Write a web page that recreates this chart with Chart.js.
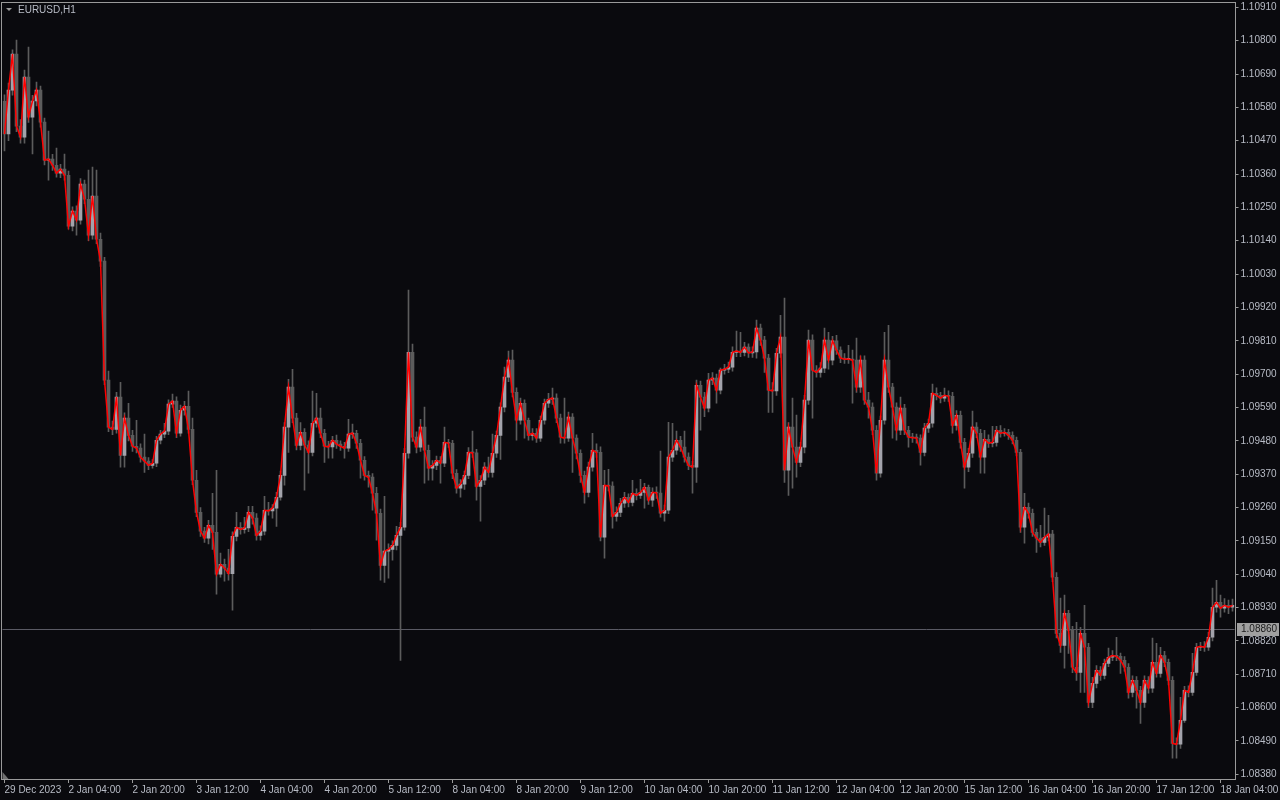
<!DOCTYPE html>
<html>
<head>
<meta charset="utf-8">
<script src="https://cdn.jsdelivr.net/npm/chart.js@4.4.1/dist/chart.umd.min.js"></script>
<style>
  html, body { margin: 0; padding: 0; background: #0a0a0e; }
  #wrap { width: 1280px; height: 800px; }
</style>
</head>
<body>
<div id="wrap"><canvas id="myChart" width="1280" height="800"></canvas></div>
<script>
// EURUSD H1, 29 Dec 2023 .. 18 Jan 2024
var opens = [
 1.10600,1.10492,1.10637,1.10756,1.10518,1.10482,1.10680,1.10548,1.10601,1.10637,
 1.10531,1.10406,1.10409,1.10389,1.10363,1.10376,1.10356,1.10188,1.10238,1.10208,
 1.10327,1.10277,1.10158,1.10287,1.10145,1.10073,1.09680,1.09525,1.09518,1.09624,
 1.09432,1.09555,1.09498,1.09462,1.09456,1.09426,1.09413,1.09399,1.09406,1.09482,
 1.09502,1.09512,1.09601,1.09611,1.09505,1.09581,1.09594,1.09518,1.09350,1.09244,
 1.09182,1.09159,1.09201,1.09178,1.09040,1.09073,1.09060,1.09042,1.09165,1.09195,
 1.09188,1.09193,1.09244,1.09225,1.09168,1.09182,1.09251,1.09249,1.09258,1.09294,
 1.09366,1.09525,1.09657,1.09555,1.09465,1.09508,1.09466,1.09442,1.09538,1.09555,
 1.09505,1.09462,1.09460,1.09482,1.09469,1.09462,1.09456,1.09502,1.09505,1.09472,
 1.09416,1.09366,1.09360,1.09307,1.09241,1.09069,1.09116,1.09122,1.09135,1.09168,
 1.09195,1.09439,1.09772,1.09492,1.09459,1.09525,1.09449,1.09390,1.09399,1.09416,
 1.09406,1.09475,1.09472,1.09373,1.09324,1.09337,1.09366,1.09442,1.09440,1.09330,
 1.09350,1.09393,1.09376,1.09439,1.09498,1.09591,1.09690,1.09746,1.09640,1.09548,
 1.09604,1.09548,1.09498,1.09505,1.09489,1.09548,1.09604,1.09617,1.09621,1.09555,
 1.09492,1.09489,1.09558,1.09489,1.09439,1.09366,1.09310,1.09393,1.09449,1.09442,
 1.09162,1.09333,1.09331,1.09231,1.09244,1.09274,1.09294,1.09277,1.09307,1.09300,
 1.09310,1.09327,1.09284,1.09310,1.09308,1.09241,1.09251,1.09426,1.09449,1.09482,
 1.09459,1.09426,1.09399,1.09393,1.09663,1.09624,1.09588,1.09680,1.09687,1.09647,
 1.09713,1.09716,1.09723,1.09772,1.09776,1.09772,1.09789,1.09770,1.09773,1.09852,
 1.09812,1.09753,1.09647,1.09645,1.09769,1.09822,1.09383,1.09525,1.09459,1.09409,
 1.09459,1.09614,1.09812,1.09713,1.09706,1.09720,1.09812,1.09746,1.09810,1.09779,
 1.09753,1.09749,1.09750,1.09746,1.09657,1.09746,1.09614,1.09591,1.09515,1.09373,
 1.09548,1.09746,1.09657,1.09591,1.09515,1.09588,1.09515,1.09492,1.09490,1.09489,
 1.09442,1.09522,1.09538,1.09637,1.09630,1.09621,1.09630,1.09627,1.09531,1.09564,
 1.09475,1.09393,1.09439,1.09525,1.09505,1.09426,1.09485,1.09472,1.09475,1.09515,
 1.09505,1.09508,1.09498,1.09482,1.09442,1.09195,1.09261,1.09241,1.09178,1.09159,
 1.09145,1.09162,1.09172,1.09030,1.08845,1.08805,1.08911,1.08855,1.08733,1.08716,
 1.08845,1.08799,1.08617,1.08680,1.08723,1.08706,1.08746,1.08766,1.08772,1.08769,
 1.08756,1.08733,1.08650,1.08690,1.08657,1.08617,1.08690,1.08664,1.08749,1.08713,
 1.08772,1.08749,1.08690,1.08482,1.08479,1.08558,1.08657,1.08650,1.08716,1.08799,
 1.08802,1.08799,1.08832,1.08931,1.08947,1.08928,1.08937,1.08931
];
var highs = [
 1.10621,1.10660,1.10770,1.10802,1.10540,1.10703,1.10779,1.10620,1.10663,1.10650,
 1.10545,1.10502,1.10425,1.10446,1.10392,1.10426,1.10370,1.10252,1.10255,1.10345,
 1.10340,1.10373,1.10383,1.10373,1.10165,1.10085,1.09710,1.09545,1.09640,1.09673,
 1.09572,1.09604,1.09515,1.09548,1.09470,1.09502,1.09425,1.09418,1.09495,1.09515,
 1.09538,1.09615,1.09634,1.09625,1.09598,1.09610,1.09644,1.09555,1.09383,1.09260,
 1.09195,1.09218,1.09307,1.09383,1.09110,1.09090,1.09122,1.09180,1.09244,1.09210,
 1.09228,1.09264,1.09264,1.09240,1.09200,1.09297,1.09277,1.09270,1.09310,1.09380,
 1.09540,1.09683,1.09716,1.09571,1.09540,1.09520,1.09480,1.09644,1.09637,1.09588,
 1.09518,1.09478,1.09495,1.09499,1.09480,1.09475,1.09551,1.09535,1.09515,1.09485,
 1.09428,1.09380,1.09372,1.09327,1.09255,1.09297,1.09140,1.09150,1.09198,1.09211,
 1.09455,1.09977,1.09799,1.09510,1.09551,1.09591,1.09466,1.09415,1.09430,1.09428,
 1.09525,1.09485,1.09482,1.09385,1.09352,1.09380,1.09458,1.09512,1.09452,1.09365,
 1.09408,1.09426,1.09502,1.09512,1.09605,1.09723,1.09776,1.09779,1.09655,1.09621,
 1.09615,1.09555,1.09520,1.09520,1.09562,1.09618,1.09637,1.09654,1.09635,1.09568,
 1.09621,1.09575,1.09570,1.09500,1.09450,1.09380,1.09410,1.09505,1.09470,1.09460,
 1.09383,1.09386,1.09345,1.09262,1.09290,1.09310,1.09305,1.09350,1.09322,1.09353,
 1.09340,1.09334,1.09325,1.09328,1.09446,1.09268,1.09541,1.09538,1.09512,1.09495,
 1.09512,1.09440,1.09412,1.09680,1.09677,1.09640,1.09703,1.09705,1.09700,1.09720,
 1.09732,1.09740,1.09790,1.09842,1.09838,1.09805,1.09800,1.09790,1.09878,1.09865,
 1.09825,1.09765,1.09672,1.09785,1.09894,1.09951,1.09540,1.09621,1.09565,1.09475,
 1.09630,1.09845,1.09830,1.09728,1.09738,1.09852,1.09838,1.09825,1.09828,1.09790,
 1.09768,1.09795,1.09779,1.09819,1.09760,1.09760,1.09640,1.09605,1.09530,1.09562,
 1.09838,1.09861,1.09670,1.09605,1.09624,1.09600,1.09528,1.09505,1.09502,1.09500,
 1.09538,1.09552,1.09667,1.09655,1.09640,1.09654,1.09645,1.09640,1.09580,1.09578,
 1.09488,1.09455,1.09578,1.09540,1.09518,1.09515,1.09500,1.09528,1.09528,1.09530,
 1.09520,1.09518,1.09510,1.09492,1.09452,1.09307,1.09275,1.09255,1.09190,1.09201,
 1.09258,1.09234,1.09185,1.09045,1.08961,1.08971,1.08921,1.08868,1.08881,1.08865,
 1.08937,1.08812,1.08700,1.08739,1.08735,1.08760,1.08796,1.08788,1.08832,1.08780,
 1.08768,1.08745,1.08705,1.08702,1.08670,1.08705,1.08702,1.08829,1.08812,1.08799,
 1.08786,1.08760,1.08702,1.08500,1.08634,1.08670,1.08672,1.08779,1.08812,1.08815,
 1.08818,1.08848,1.08994,1.09020,1.08971,1.08960,1.08955,1.08958
];
var lows = [
 1.10436,1.10470,1.10620,1.10500,1.10462,1.10462,1.10530,1.10426,1.10585,1.10515,
 1.10390,1.10340,1.10372,1.10350,1.10348,1.10340,1.10178,1.10172,1.10158,1.10195,
 1.10262,1.10140,1.10145,1.10130,1.10055,1.09665,1.09510,1.09500,1.09505,1.09393,
 1.09393,1.09480,1.09445,1.09440,1.09410,1.09376,1.09385,1.09390,1.09395,1.09470,
 1.09490,1.09500,1.09590,1.09490,1.09495,1.09565,1.09505,1.09335,1.09230,1.09165,
 1.09145,1.09140,1.09122,1.08974,1.09030,1.09017,1.09020,1.08921,1.09150,1.09172,
 1.09175,1.09180,1.09205,1.09152,1.09152,1.09170,1.09235,1.09225,1.09198,1.09284,
 1.09334,1.09442,1.09540,1.09450,1.09450,1.09317,1.09373,1.09430,1.09525,1.09490,
 1.09409,1.09423,1.09423,1.09455,1.09448,1.09423,1.09445,1.09488,1.09455,1.09357,
 1.09350,1.09327,1.09251,1.09152,1.09020,1.09013,1.09027,1.09086,1.09120,1.08756,
 1.09185,1.09423,1.09478,1.09440,1.09445,1.09340,1.09350,1.09350,1.09385,1.09340,
 1.09395,1.09458,1.09355,1.09307,1.09294,1.09320,1.09355,1.09425,1.09284,1.09215,
 1.09335,1.09360,1.09360,1.09425,1.09419,1.09575,1.09675,1.09625,1.09482,1.09535,
 1.09489,1.09482,1.09482,1.09475,1.09478,1.09535,1.09590,1.09600,1.09540,1.09472,
 1.09472,1.09478,1.09376,1.09420,1.09343,1.09274,1.09295,1.09380,1.09425,1.09150,
 1.09093,1.09315,1.09192,1.09215,1.09230,1.09260,1.09262,1.09265,1.09285,1.09290,
 1.09258,1.09270,1.09264,1.09290,1.09228,1.09215,1.09240,1.09412,1.09435,1.09445,
 1.09410,1.09385,1.09307,1.09343,1.09515,1.09560,1.09575,1.09665,1.09604,1.09635,
 1.09700,1.09705,1.09710,1.09758,1.09758,1.09760,1.09755,1.09755,1.09753,1.09795,
 1.09706,1.09574,1.09574,1.09630,1.09755,1.09343,1.09300,1.09324,1.09360,1.09395,
 1.09440,1.09600,1.09555,1.09690,1.09690,1.09705,1.09716,1.09730,1.09765,1.09738,
 1.09735,1.09735,1.09604,1.09640,1.09640,1.09600,1.09555,1.09500,1.09350,1.09360,
 1.09535,1.09640,1.09489,1.09482,1.09500,1.09500,1.09459,1.09475,1.09472,1.09400,
 1.09430,1.09508,1.09525,1.09615,1.09605,1.09610,1.09610,1.09505,1.09515,1.09456,
 1.09324,1.09378,1.09425,1.09490,1.09373,1.09373,1.09458,1.09460,1.09462,1.09492,
 1.09495,1.09485,1.09470,1.09430,1.09178,1.09142,1.09225,1.09165,1.09112,1.09130,
 1.09135,1.09150,1.09015,1.08830,1.08782,1.08730,1.08779,1.08715,1.08690,1.08650,
 1.08650,1.08600,1.08600,1.08665,1.08690,1.08695,1.08735,1.08755,1.08755,1.08713,
 1.08720,1.08631,1.08635,1.08598,1.08548,1.08601,1.08648,1.08650,1.08700,1.08700,
 1.08735,1.08675,1.08433,1.08433,1.08465,1.08551,1.08635,1.08640,1.08706,1.08788,
 1.08785,1.08789,1.08820,1.08915,1.08898,1.08915,1.08910,1.08918
];
var closes = [
 1.10492,1.10637,1.10756,1.10518,1.10482,1.10680,1.10548,1.10601,1.10637,1.10531,
 1.10406,1.10409,1.10389,1.10363,1.10376,1.10356,1.10188,1.10238,1.10208,1.10327,
 1.10277,1.10158,1.10287,1.10145,1.10073,1.09680,1.09525,1.09518,1.09624,1.09432,
 1.09555,1.09498,1.09462,1.09456,1.09426,1.09413,1.09399,1.09406,1.09482,1.09502,
 1.09512,1.09601,1.09611,1.09505,1.09581,1.09594,1.09518,1.09350,1.09244,1.09182,
 1.09159,1.09201,1.09178,1.09040,1.09073,1.09060,1.09042,1.09165,1.09195,1.09188,
 1.09193,1.09244,1.09225,1.09168,1.09182,1.09251,1.09249,1.09258,1.09294,1.09366,
 1.09525,1.09657,1.09555,1.09465,1.09508,1.09466,1.09442,1.09538,1.09555,1.09505,
 1.09462,1.09460,1.09482,1.09469,1.09462,1.09456,1.09502,1.09505,1.09472,1.09416,
 1.09366,1.09360,1.09307,1.09241,1.09069,1.09116,1.09122,1.09135,1.09168,1.09195,
 1.09439,1.09772,1.09492,1.09459,1.09525,1.09449,1.09390,1.09399,1.09416,1.09406,
 1.09475,1.09472,1.09373,1.09324,1.09337,1.09366,1.09442,1.09440,1.09330,1.09350,
 1.09393,1.09376,1.09439,1.09498,1.09591,1.09690,1.09746,1.09640,1.09548,1.09604,
 1.09548,1.09498,1.09505,1.09489,1.09548,1.09604,1.09617,1.09621,1.09555,1.09492,
 1.09489,1.09558,1.09489,1.09439,1.09366,1.09310,1.09393,1.09449,1.09442,1.09162,
 1.09333,1.09331,1.09231,1.09244,1.09274,1.09294,1.09277,1.09307,1.09300,1.09310,
 1.09327,1.09284,1.09310,1.09308,1.09241,1.09251,1.09426,1.09449,1.09482,1.09459,
 1.09426,1.09399,1.09393,1.09663,1.09624,1.09588,1.09680,1.09687,1.09647,1.09713,
 1.09716,1.09723,1.09772,1.09776,1.09772,1.09789,1.09770,1.09773,1.09852,1.09812,
 1.09753,1.09647,1.09645,1.09769,1.09822,1.09383,1.09525,1.09459,1.09409,1.09459,
 1.09614,1.09812,1.09713,1.09706,1.09720,1.09812,1.09746,1.09810,1.09779,1.09753,
 1.09749,1.09750,1.09746,1.09657,1.09746,1.09614,1.09591,1.09515,1.09373,1.09548,
 1.09746,1.09657,1.09591,1.09515,1.09588,1.09515,1.09492,1.09490,1.09489,1.09442,
 1.09522,1.09538,1.09637,1.09630,1.09621,1.09630,1.09627,1.09531,1.09564,1.09475,
 1.09393,1.09439,1.09525,1.09505,1.09426,1.09485,1.09472,1.09475,1.09515,1.09505,
 1.09508,1.09498,1.09482,1.09442,1.09195,1.09261,1.09241,1.09178,1.09159,1.09145,
 1.09162,1.09172,1.09030,1.08845,1.08805,1.08911,1.08855,1.08733,1.08716,1.08845,
 1.08799,1.08617,1.08680,1.08723,1.08706,1.08746,1.08766,1.08772,1.08769,1.08756,
 1.08733,1.08650,1.08690,1.08657,1.08617,1.08690,1.08664,1.08749,1.08713,1.08772,
 1.08749,1.08690,1.08482,1.08479,1.08558,1.08657,1.08650,1.08716,1.08799,1.08802,
 1.08799,1.08832,1.08931,1.08947,1.08928,1.08937,1.08931,1.08937
];

// one label every 16 bars
var xTickLabels = ["29 Dec 2023", "2 Jan 04:00", "2 Jan 20:00", "3 Jan 12:00", "4 Jan 04:00",
  "4 Jan 20:00", "5 Jan 12:00", "8 Jan 04:00", "8 Jan 20:00", "9 Jan 12:00",
  "10 Jan 04:00", "10 Jan 20:00", "11 Jan 12:00", "12 Jan 04:00", "12 Jan 20:00",
  "15 Jan 12:00", "16 Jan 04:00", "16 Jan 20:00", "17 Jan 12:00", "18 Jan 04:00"];
var yTicks = [1.08380, 1.08490, 1.08600, 1.08710, 1.08820, 1.08930, 1.09040, 1.09150,
  1.09260, 1.09370, 1.09480, 1.09590, 1.09700, 1.09810, 1.09920, 1.10030, 1.10140,
  1.10250, 1.10360, 1.10470, 1.10580, 1.10690, 1.10800, 1.10910];
var priceLine = 1.08860;
var symbolTitle = "EURUSD,H1";

var bgColor = "#0a0a0e";
var frameColor = "#9a9a9a";
var textColor = "#b8bcc6";
var upColor = "#a3a3ab";
var downColor = "#5c5c5c";
var wickColor = "#5c5c5c";

Chart.defaults.font.family = '"Liberation Sans", Arial, sans-serif';
Chart.defaults.font.size = 10;

var labels = closes.map(function (c, i) { return i; });

var mtFrame = {
  id: 'mtFrame',
  beforeDraw: function (chart) {
    var ctx = chart.ctx;
    ctx.save();
    ctx.fillStyle = bgColor;
    ctx.fillRect(0, 0, chart.width, chart.height);
    ctx.restore();
  },
  beforeDatasetsDraw: function (chart) {
    var ctx = chart.ctx, a = chart.chartArea;
    var y = Math.round(chart.scales.y.getPixelForValue(priceLine)) + 0.5;
    ctx.save();
    ctx.strokeStyle = "#5a5a64";
    ctx.lineWidth = 1;
    ctx.beginPath();
    ctx.moveTo(a.left, y);
    ctx.lineTo(a.right, y);
    ctx.stroke();
    ctx.restore();
  },
  afterDraw: function (chart) {
    var ctx = chart.ctx, a = chart.chartArea;
    ctx.save();
    // frame
    ctx.strokeStyle = frameColor;
    ctx.lineWidth = 1;
    ctx.strokeRect(Math.floor(a.left) - 0.5, Math.floor(a.top) - 0.5,
      Math.round(a.right) - Math.floor(a.left) + 1, Math.round(a.bottom) - Math.floor(a.top) + 1);
    // title
    ctx.fillStyle = frameColor;
    ctx.beginPath();
    ctx.moveTo(6, 8); ctx.lineTo(12, 8); ctx.lineTo(9, 11); ctx.closePath();
    ctx.fill();
    ctx.fillStyle = textColor;
    ctx.font = '10px "Liberation Sans", Arial, sans-serif';
    ctx.textBaseline = 'middle';
    ctx.textAlign = 'left';
    ctx.fillText(symbolTitle, 18, 10);
    // current price tag
    var y = Math.round(chart.scales.y.getPixelForValue(priceLine));
    var x0 = Math.round(a.right) + 2;
    ctx.fillStyle = "#a0a0a0";
    ctx.fillRect(x0, y - 6, 42, 13);
    ctx.fillStyle = "#1a1a1a";
    ctx.fillText(priceLine.toFixed(5), x0 + 4, y + 0.5);
    // chart shift marker
    ctx.fillStyle = "#707070";
    ctx.beginPath();
    ctx.moveTo(a.left, a.bottom - 7); ctx.lineTo(a.left, a.bottom); ctx.lineTo(a.left + 6, a.bottom);
    ctx.closePath();
    ctx.fill();
    ctx.restore();
  }
};

var candleChart = new Chart("myChart", {
  type: 'bar',
  data: {
    labels: labels,
    datasets: [{
      // wicks
      data: lows.map(function (l, i) { return [l, highs[i]]; }),
      backgroundColor: wickColor,
      barThickness: 1,
      grouped: false,
      order: 3
    }, {
      // bodies
      data: opens.map(function (o, i) { return [o, closes[i]]; }),
      backgroundColor: function (c) {
        return closes[c.dataIndex] >= opens[c.dataIndex] ? upColor : downColor;
      },
      barThickness: 3,
      minBarLength: 1,
      grouped: false,
      order: 2
    }, {
      type: 'line',
      data: closes,
      borderColor: "#ff0000",
      borderWidth: 1.5,
      pointRadius: 0,
      tension: 0,
      order: 1
    }]
  },
  options: {
    responsive: false,
    animation: false,
    devicePixelRatio: 1,
    layout: { padding: { left: 2.5, top: 3, right: 0, bottom: 0 } },
    plugins: { legend: { display: false }, tooltip: { enabled: false } },
    scales: {
      x: {
        type: 'category',
        offset: true,
        afterFit: function (s) {
          s.height = 21;
          s.paddingLeft = 0;
          s.paddingRight = 0;
        },
        border: { display: false },
        grid: {
          offset: false,
          drawOnChartArea: false,
          tickLength: 4,
          color: function (c) { return c.index % 16 === 0 ? frameColor : 'rgba(0,0,0,0)'; }
        },
        ticks: {
          autoSkip: false,
          maxRotation: 0,
          minRotation: 0,
          align: 'start',
          padding: 1,
          color: textColor,
          callback: function (v, i) { return i % 16 === 0 ? xTickLabels[i / 16] : ''; }
        }
      },
      y: {
        position: 'right',
        min: 1.083645,
        max: 1.109242,
        afterFit: function (s) {
          s.width = 45.5;
          s.paddingTop = 0;
          s.paddingBottom = 0;
        },
        afterBuildTicks: function (s) {
          s.ticks = yTicks.map(function (v) { return { value: v }; });
        },
        border: { display: false },
        grid: { drawOnChartArea: false, tickLength: 4, color: frameColor },
        ticks: {
          padding: 2,
          color: textColor,
          callback: function (v) { return Number(v).toFixed(5); }
        }
      }
    }
  },
  plugins: [mtFrame]
});
</script>
</body>
</html>
